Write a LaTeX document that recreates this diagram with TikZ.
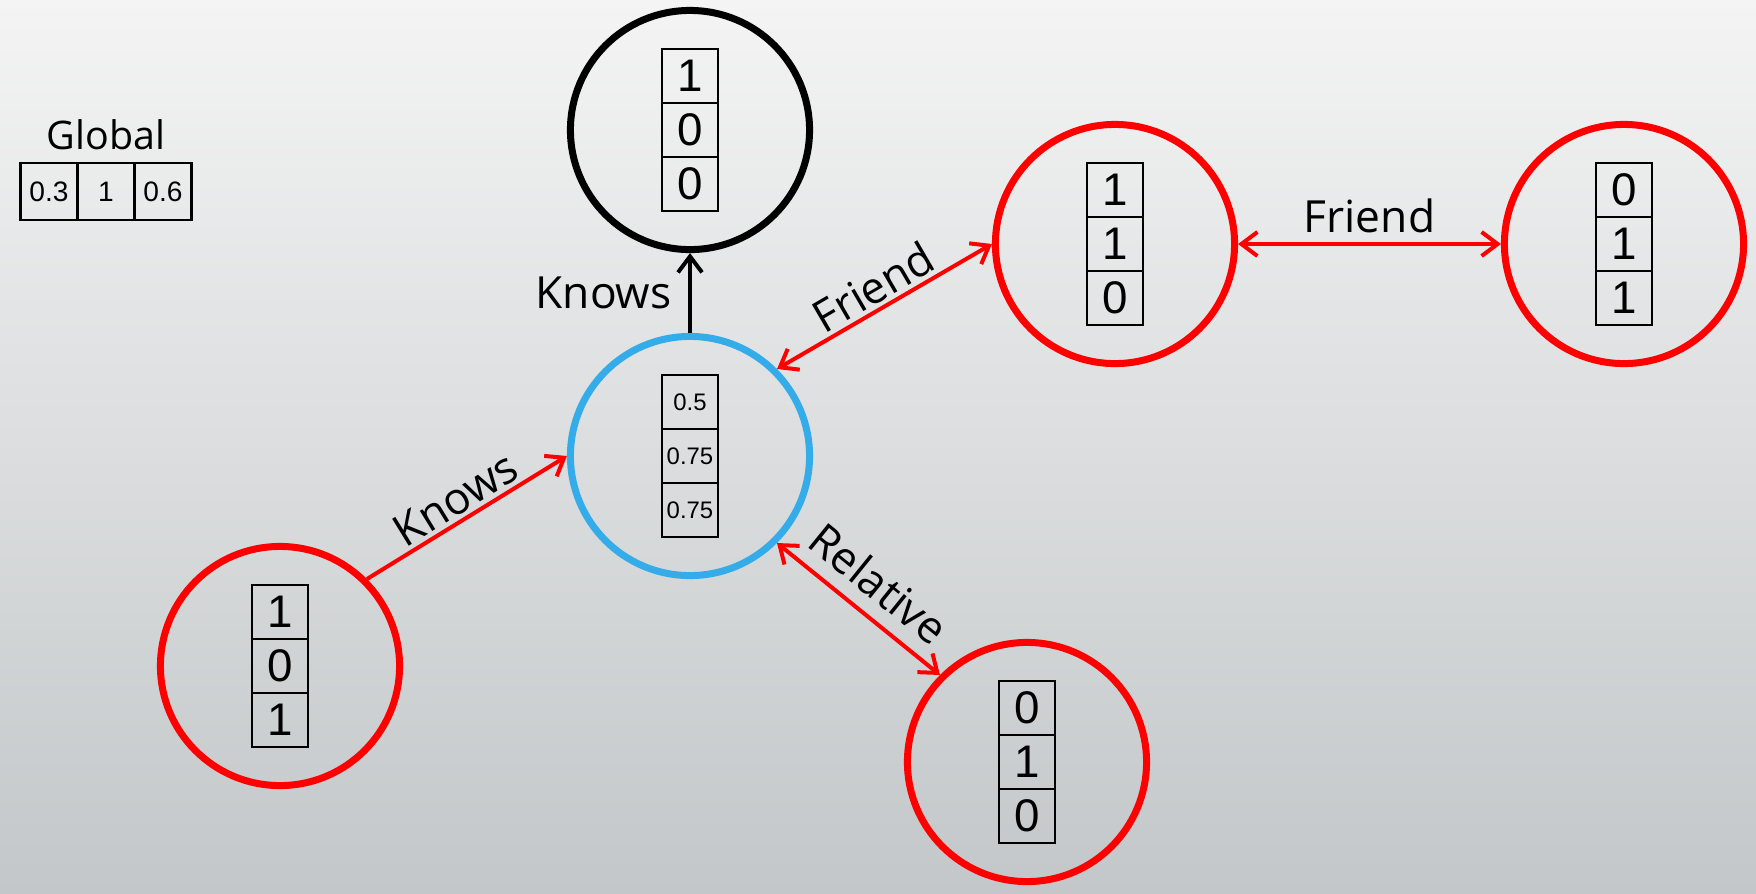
\documentclass[tikz,border=0pt]{standalone}
\usepackage{fontspec}
\setmainfont{Open Sans}
\newfontfamily\digitfont{Liberation Sans}
\usepackage{tikz}
\usetikzlibrary{
  arrows.meta,
  matrix,
  positioning
}
\definecolor{nodeblue}{RGB}{52,172,234}
\definecolor{bgtop}{RGB}{244,244,244}
\definecolor{bgmid}{RGB}{235,236,237}
\definecolor{bgbottom}{RGB}{195,199,201}

\begin{document}
\begin{tikzpicture}[
      x=0.01cm,y=-0.01cm,
      vertex/.style={
         circle,
         minimum size=2.39cm,
         line width=0.07cm,
         draw=#1
      },
      cell/.style={
         rectangle,
         draw=black,
         line width=0.028cm,
         minimum width=0.56cm,
         minimum height=0.54cm,
         inner sep=0pt,
         outer sep=0pt,
         font=\digitfont\fontsize{13}{13}\selectfont
      },
      small cell/.style={cell,font=\digitfont\fontsize{6.8}{7}\selectfont},
      global cell/.style={cell,minimum width=0.57cm,minimum height=0.57cm,
         font=\digitfont\fontsize{8}{8}\selectfont},
      % neighbouring cells share one border line
      stack/.style={matrix,row sep=-0.028cm,column sep=-0.028cm,inner sep=0pt},
      link/.style={line width=0.04cm,draw=red},
      edgetext/.style={font=\fontsize{12.6}{13}\selectfont,inner sep=1pt},
      >={Straight Barb[length=0.16cm,width=0.24cm]}
    ]
    \shade[top color=bgtop,middle color=bgmid,bottom color=bgbottom]
      (0,0) rectangle (1756,893);
    \useasboundingbox (0,0) rectangle (1756,893);

    \node (n1) [vertex=black] at (690,130) {};
    \node (n2) [vertex=nodeblue] at (690,456) {};
    \node (n3) [vertex=red] at (1115,244) {};
    \node (n4) [vertex=red] at (1624,244) {};
    \node (n5) [vertex=red] at (280,666) {};
    \node (n6) [vertex=red] at (1027,762) {};

    \matrix (m1) [stack] at (n1) {
      \node (m11) [cell] {1}; \\
      \node (m12) [cell] {0}; \\
      \node (m13) [cell] {0}; \\
    };
    \matrix (m2) [stack] at (n2) {
      \node (m21) [small cell] {0.5}; \\
      \node (m22) [small cell] {0.75}; \\
      \node (m23) [small cell] {0.75}; \\
    };
    \matrix (m3) [stack] at (n3) {
      \node (m31) [cell] {1}; \\
      \node (m32) [cell] {1}; \\
      \node (m33) [cell] {0}; \\
    };
    \matrix (m4) [stack] at (n4) {
      \node (m41) [cell] {0}; \\
      \node (m42) [cell] {1}; \\
      \node (m43) [cell] {1}; \\
    };
    \matrix (m5) [stack] at (n5) {
      \node (m51) [cell] {1}; \\
      \node (m52) [cell] {0}; \\
      \node (m53) [cell] {1}; \\
    };
    \matrix (m6) [stack] at (n6) {
      \node (m61) [cell] {0}; \\
      \node (m62) [cell] {1}; \\
      \node (m63) [cell] {0}; \\
    };

    \matrix (gm) [stack] at (106,191.5) {
      \node (g1) [global cell] {0.3}; &
      \node (g2) [global cell] {1}; &
      \node (g3) [global cell] {0.6}; \\
    };
    \node (g) [above=0.1cm of gm,inner sep=0pt,font=\fontsize{11.2}{12}\selectfont] {Global};

    \draw[line width=0.04cm,->] (n2.north) -- node[edgetext,left=0.13cm] {Knows} (n1.south);
    \draw[link,->] (n5.45) -- node[edgetext,sloped,above] {Knows} (n2.west);
    \draw[link,<->] (n2.45) -- node[edgetext,sloped,above] {Friend} (n3.west);
    \draw[link,<->] (n3.east) -- node[edgetext,above=0.06cm] {Friend} (n4.west);
    \draw[link,<->] (n2.-45) -- node[edgetext,sloped,above=0.1cm] {Relative} (n6.135);
\end{tikzpicture}
\end{document}
